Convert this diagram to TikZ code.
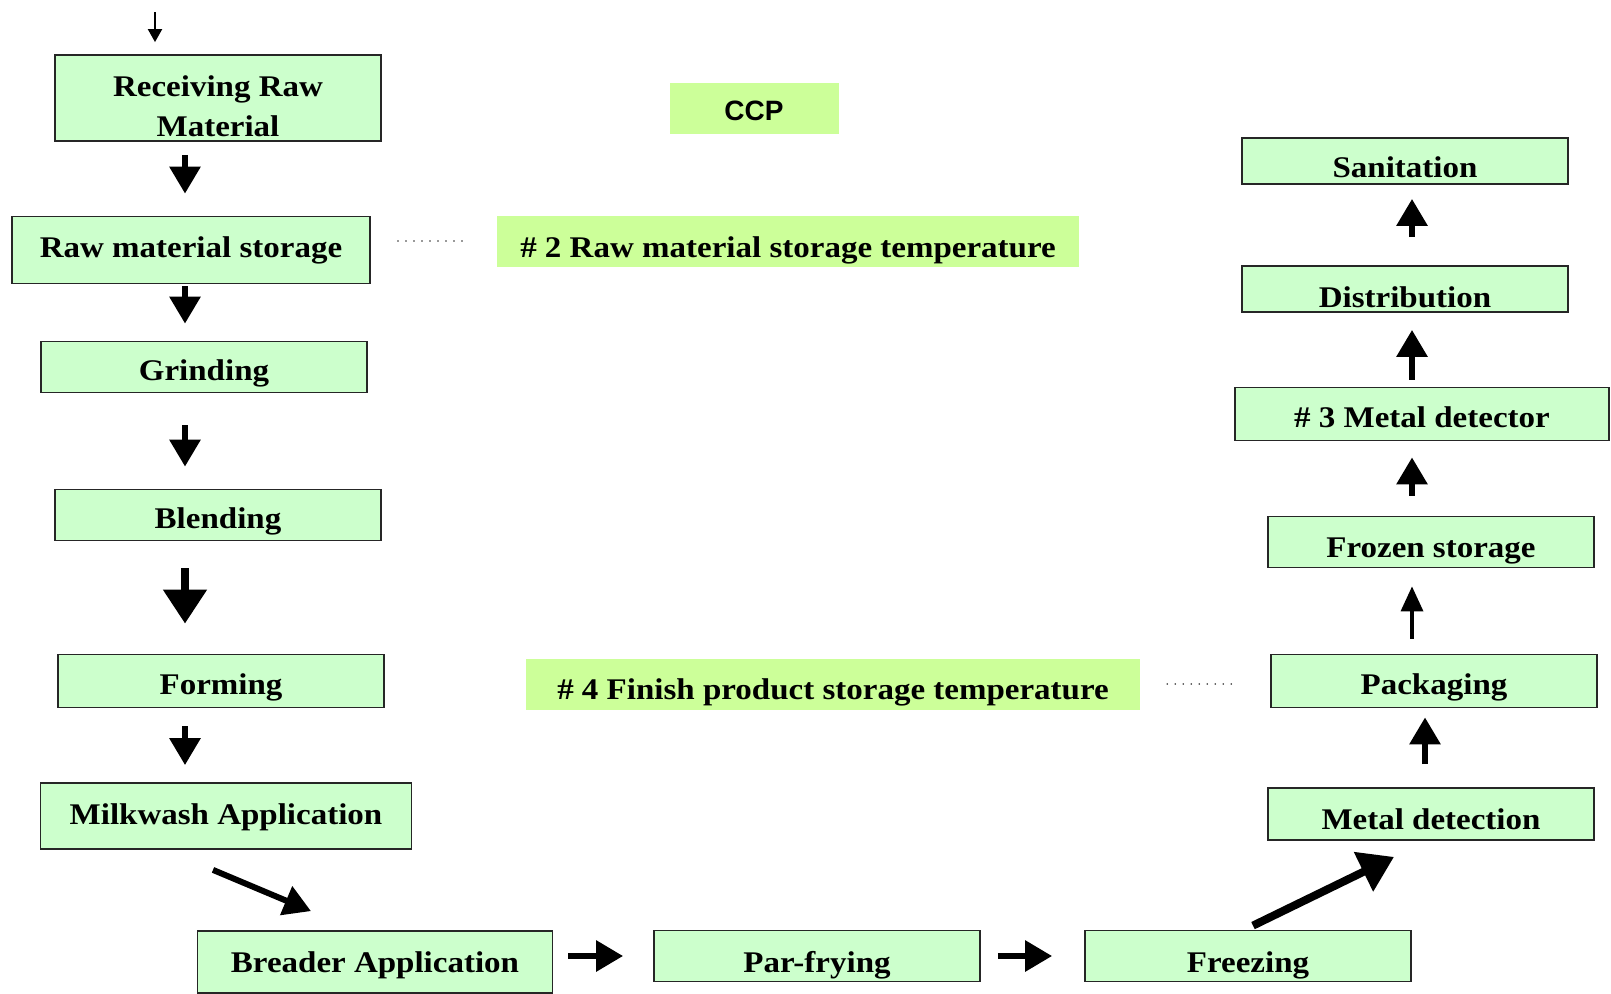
\documentclass[tikz,border=0pt]{standalone}
\usepackage{fontspec}
\setmainfont{Liberation Serif}[FakeStretch=1.1]
\setsansfont{Liberation Sans}
\usetikzlibrary{arrows.meta}
\definecolor{stagegreen}{HTML}{CCFFCC}
\definecolor{ccpgreen}{HTML}{CCFF99}
\begin{document}
\begin{tikzpicture}[x=1pt, y=-1pt,
    stage/.style={draw=black!85, line width=1.8pt, fill=stagegreen, inner sep=0pt, minimum width=326pt, minimum height=51pt, text height=26pt, text depth=0pt, align=center, font=\bfseries\fontsize{30}{40}\selectfont},
    ccp tag/.style={fill=ccpgreen, inner sep=0pt, minimum height=51pt, text height=26pt, text depth=0pt, font=\bfseries\fontsize{30}{40}\selectfont},
    flow/.style={-{Triangle[width=30pt, length=27pt]}, line width=6pt},
    big flow/.style={-{Triangle[width=42pt, length=34pt]}, line width=8pt},
    thin flow/.style={-{Triangle[width=22pt, length=25pt]}, line width=3.5pt},
    feed/.style={-{Triangle[width=14pt, length=13pt]}, line width=2pt},
    dots/.style={line width=1.8pt, dash pattern=on 0pt off 8pt, line cap=round, black!80}]

  \fill[white] (0,0) rectangle (1611,993);
  \useasboundingbox (0,0) rectangle (1611,993);

  \coordinate (in) at (155,12);
  \coordinate (lcol) at (185,0);
  \coordinate (rcol) at (1412,0);

  \node[stage, minimum height=86pt, text height=76pt] (rec) at (218,98) {Receiving Raw\\Material};
  \node[ccp tag, minimum width=169pt, font=\sffamily\bfseries\fontsize{28}{34}\selectfont, text height=24pt] (ccp) at (754,108) {CCP};
  \node[stage, minimum height=46pt, text height=32pt] (san) at (1405,161) {Sanitation};
  \node[stage, minimum width=358pt, minimum height=67pt, text height=14pt] (raw) at (191,250) {Raw material storage};
  \node[ccp tag, minimum width=582pt, text height=32pt] (t2) at (788,241) {\# 2 Raw material storage temperature};
  \node[stage, minimum height=46pt, text height=36pt] (dist) at (1405,289) {Distribution};
  \node[stage] (grind) at (204,367) {Grinding};
  \node[stage, minimum width=374pt, minimum height=53pt] (md3) at (1422,414) {\# 3 Metal detector};
  \node[stage] (blend) at (218,515) {Blending};
  \node[stage, text height=30pt] (froz) at (1431,542) {Frozen storage};
  \node[stage, minimum height=53pt] (form) at (221,681) {Forming};
  \node[stage, minimum height=53pt] (pack) at (1434,681) {Packaging};
  \node[ccp tag, minimum width=614pt, text height=30pt] (t4) at (833,684) {\# 4 Finish product storage temperature};
  \node[stage, minimum width=371pt, minimum height=66pt, text height=16pt] (milk) at (226,816) {Milkwash Application};
  \node[stage, minimum height=52pt, text height=30pt] (metd) at (1431,814) {Metal detection};
  \node[stage, minimum width=355pt, minimum height=62pt, text height=20pt] (bread) at (375,962) {Breader Application};
  \node[stage, text height=32pt] (par) at (817,956) {Par-frying};
  \node[stage, text height=32pt] (freez) at (1248,956) {Freezing};

  \draw[feed, shorten >=12pt] (in) -- (in |- rec.north);
  \draw[flow, shorten <=13pt, shorten >=22pt] (rec.south -| lcol) -- (raw.north -| lcol);
  \draw[flow, shorten <=2pt, shorten >=17pt] (raw.south -| lcol) -- (grind.north -| lcol);
  \draw[flow, shorten <=32pt, shorten >=22pt] (grind.south -| lcol) -- (blend.north -| lcol);
  \draw[big flow, shorten <=27pt, shorten >=30pt] (blend.south -| lcol) -- (form.north -| lcol);
  \draw[flow, shorten <=18pt, shorten >=17pt] (form.south -| lcol) -- (milk.north -| lcol);
  \draw[flow] ([shift={(-13,20)}]milk.south) -- ([shift={(-64,-19)}]bread.north);
  \draw[flow, shorten <=15pt, shorten >=30pt] (bread.east |- par.west) -- (par.west);
  \draw[flow, shorten <=17pt, shorten >=32pt] (par.east) -- (freez.west);
  \draw[big flow] ([shift={(5,-4)}]freez.north) -- ([shift={(-37,16)}]metd.south);
  \draw[flow, shorten <=23pt, shorten >=9pt] ([xshift=-6pt]metd.north) -- ([xshift=-9pt]pack.south);
  \draw[thin flow, shorten <=15pt, shorten >=18pt] (pack.north -| rcol) -- (froz.south -| rcol);
  \draw[flow, shorten <=20pt, shorten >=16pt] (froz.north -| rcol) -- (md3.south -| rcol);
  \draw[flow, shorten <=7pt, shorten >=17pt] (md3.north -| rcol) -- (dist.south -| rcol);
  \draw[flow, shorten <=28pt, shorten >=14pt] (dist.north -| rcol) -- (san.south -| rcol);

  \draw[dots, shorten <=27pt, shorten >=30pt] (raw.east |- t2.west) -- (t2.west);
  \draw[dots, shorten <=27pt, shorten >=33pt] (t4.east) -- (t4.east -| pack.west);
\end{tikzpicture}
\end{document}
